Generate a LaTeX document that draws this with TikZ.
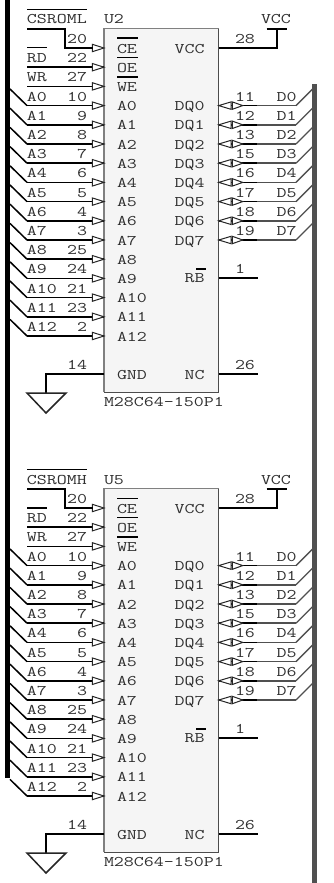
\documentclass[tikz,border=0pt]{standalone}
\usepackage{fontspec}
\setmainfont[FakeStretch=1.32]{Latin Modern Mono}
\definecolor{txt}{HTML}{303030}
\definecolor{busgray}{HTML}{505050}
\definecolor{chipfill}{HTML}{F5F5F5}
\tikzset{
  lab/.style={inner sep=0pt,outer sep=0pt,text=txt,font=\fontsize{14.7}{16}\selectfont},
  tl/.style={lab,anchor=base west},
  tr/.style={lab,anchor=base east},
  wire/.style={line width=1.6pt,black},
  graywire/.style={line width=1.5pt,busgray},
  bar/.style={line width=1.6pt,black},
  bus/.style={line width=5pt},
  tip/.style={line width=1pt,draw=black!85,fill=white},
  chipbody/.style={fill=chipfill,inner sep=0pt,outer sep=0pt,minimum width=114.6pt,minimum height=363.4pt,anchor=north west}
}
\newcommand{\romchip}[4]{%
\begin{scope}[yshift=#1]
  \node[chipbody] (#2body) at (104,28.7) {};
  \draw[line width=1.2pt,black!50] (#2body.south west) -- (#2body.north west) -- (#2body.north east);
  \draw[line width=1.2pt,black!70] (#2body.north east) -- (#2body.south east) -- (#2body.south west);
  \node[tl] (#2name) at (104,24) {#3};
  \node[tl] (#2part) at (104,406.7) {M28C64-150P1};
  \node[tl] (#2sig) at (27,24) {#4};
  \draw[bar] (#2sig.west |- 0,9.6) -- (#2sig.east |- 0,9.6);
  % left pins
  \foreach \k/\pin/\sig/\num in {0/CE//20,1/OE/RD/22,2/WE/WR/27,3/A0/A0/10,4/A1/A1/9,5/A2/A2/8,6/A3/A3/7,7/A4/A4/6,8/A5/A5/5,9/A6/A6/4,10/A7/A7/3,11/A8/A8/25,12/A9/A9/24,13/A10/A10/21,14/A11/A11/23,15/A12/A12/2}{
    \coordinate (#2L\k) at (104,{48+19.2*\k});
    \coordinate (#2S\k) at (27,{48+19.2*\k});
    \node[tl] (#2pin\k) at (117,{53+19.2*\k}) {\pin};
    \node[tr] (#2num\k) at (87,{43.4+19.2*\k}) {\num};
    \ifnum\k>0
      \node[tl] (#2lab\k) at (27,{43.4+19.2*\k}) {\sig};
      \draw[wire] (#2S\k) -- (#2L\k);
    \fi
    \ifnum\k>2
      \draw[line width=1.5pt] (10,{31.4+19.2*\k}) -- (#2S\k);
    \fi
    \draw[tip] (#2L\k) -- ++(-11.7,-3.7) -- ++(0,7.4) -- cycle;
  }
  \coordinate (#2csa) at (27,29);
  \coordinate (#2csb) at (65,29);
  \draw[wire] (#2csa) -- (#2csb) -- (#2csb |- #2L0) -- ([xshift=-11pt]#2L0);
  \foreach \k in {0,1,2}{
    \draw[bar] (117,{38.3+19.2*\k}) -- ++(21,0);
  }
  \draw[bar] (27,47.7) -- (47,47.7);
  % supply
  \node[tr] (#2rvcc) at (204.7,53) {VCC};
  \node[tl] (#2n28) at (235,43.4) {28};
  \node[tl] (#2vcc) at (261,24) {VCC};
  \coordinate (#2p28) at (218.7,48);
  \coordinate (#2vt) at (276.7,29);
  \draw[wire] (#2p28) -- (#2vt |- #2p28) -- (#2vt);
  \draw[bar] (266.7,29) -- (286.7,29);
  % data pins
  \foreach \k/\n in {0/11,1/12,2/13,3/15,4/16,5/17,6/18,7/19}{
    \coordinate (#2R\k) at (218.7,{105.6+19.2*\k});
    \coordinate (#2M\k) at (257,{105.6+19.2*\k});
    \coordinate (#2E\k) at (296,{105.6+19.2*\k});
    \coordinate (#2B\k) at (313,{88.6+19.2*\k});
    \node[tr] (#2dq\k) at (204.7,{110.6+19.2*\k}) {DQ\k};
    \node[tl] (#2dn\k) at (235,{101+19.2*\k}) {\n};
    \node[tl] (#2dl\k) at (276.7,{101+19.2*\k}) {D\k};
    \draw[wire] (#2R\k) -- (#2M\k);
    \draw[graywire] (#2M\k) -- (#2E\k);
    \draw[line width=1.3pt,busgray] (#2E\k) -- (#2B\k);
    \draw[tip] (#2R\k) -- ++(12.3,-3.7) -- ++(0,7.4) -- cycle;
    \draw[tip] ([xshift=24pt]#2R\k) -- ++(-10.4,-3.7) -- ++(0,7.4) -- cycle;
  }
  % RB
  \node[tr] (#2rb) at (204.7,282.7) {RB};
  \draw[bar] (196,268.7) -- (206,268.7);
  \node[tl] (#2n1) at (235,273.4) {1};
  \coordinate (#2p1) at (218.7,278);
  \coordinate (#2p1e) at (257.5,278);
  \draw[wire] (#2p1) -- (#2p1e);
  % NC
  \node[tr] (#2nc) at (204.7,379) {NC};
  \node[tl] (#2n26) at (235,369) {26};
  \coordinate (#2p26) at (218.7,374);
  \coordinate (#2p26e) at (257.5,374);
  \draw[wire] (#2p26) -- (#2p26e);
  % GND
  \node[tl] (#2gnd) at (117,379) {GND};
  \node[tr] (#2n14) at (87,369) {14};
  \coordinate (#2p14) at (104,374);
  \coordinate (#2gt) at (46,393);
  \draw[wire] (#2p14) -- (#2gt |- #2p14) -- (#2gt);
  \draw[line width=1.5pt,black!85,line join=miter] (27,393) -- (66,393) -- (46,413) -- cycle;
\end{scope}}
\begin{document}
\begin{tikzpicture}[x=1pt,y=-1pt]
  \useasboundingbox (0,0) rectangle (333,883);
  \fill[white] (0,0) rectangle (333,883);
  \coordinate (lbt) at (7.5,0);
  \coordinate (lbb) at (7.5,778);
  \coordinate (rbt) at (314.7,84);
  \coordinate (rbb) at (314.7,883);
  \draw[bus,black] (lbt) -- (lbb);
  \draw[bus,busgray] (rbt) -- (rbb);
  \romchip{0pt}{a}{U2}{CSROML}
  \romchip{-460pt}{b}{U5}{CSROMH}
\end{tikzpicture}
\end{document}
